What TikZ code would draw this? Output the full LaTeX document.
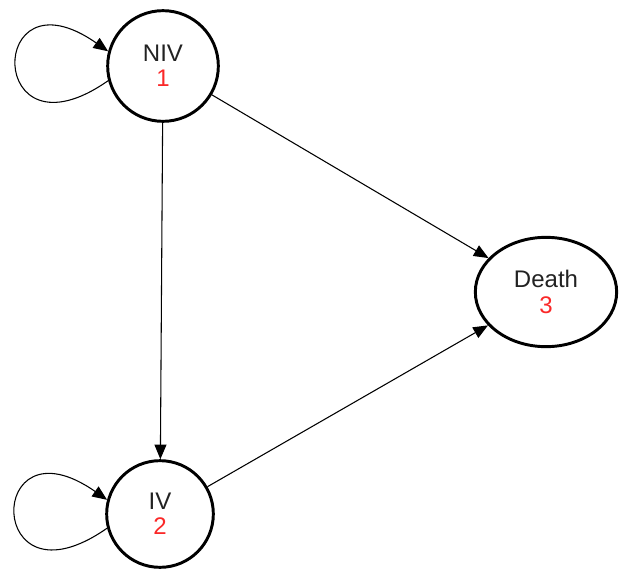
\documentclass[tikz,border=0pt]{standalone}
\usepackage{fontspec}
\setmainfont{Liberation Sans}
\usetikzlibrary{arrows.meta,shapes.geometric}
\definecolor{numred}{RGB}{250,40,40}
\definecolor{txtgray}{RGB}{34,34,34}

\begin{document}
\begin{tikzpicture}[x=0.75pt,y=0.75pt,
  main node/.style={circle,draw,line width=2.2pt,inner sep=0pt,align=center,
    text=txtgray,font=\fontsize{18}{19}\selectfont},
  end node/.style={main node,ellipse},
  arc/.style={line width=0.8pt,-{Triangle[length=11pt,width=9pt]}},
  self loop/.style={out=215,in=145,distance=112pt}]
  \useasboundingbox (0,0) rectangle (620,569);

  \node[main node,minimum size=83pt] (niv) at (163,503) {NIV\\\textcolor{numred}{1}};
  \node[main node,minimum size=80pt] (iv) at (160,55) {IV\\\textcolor{numred}{2}};
  \node[end node,minimum width=106pt,minimum height=82pt] (death) at (546,277) {Death\\\textcolor{numred}{3}};
 \path[arc]
 (niv.195) edge [self loop] (niv.165)
 (niv) edge (iv)
 (niv) edge (death)
 (iv.195) edge [self loop] (iv.165)
 (iv) edge (death);
\end{tikzpicture}
\end{document}
